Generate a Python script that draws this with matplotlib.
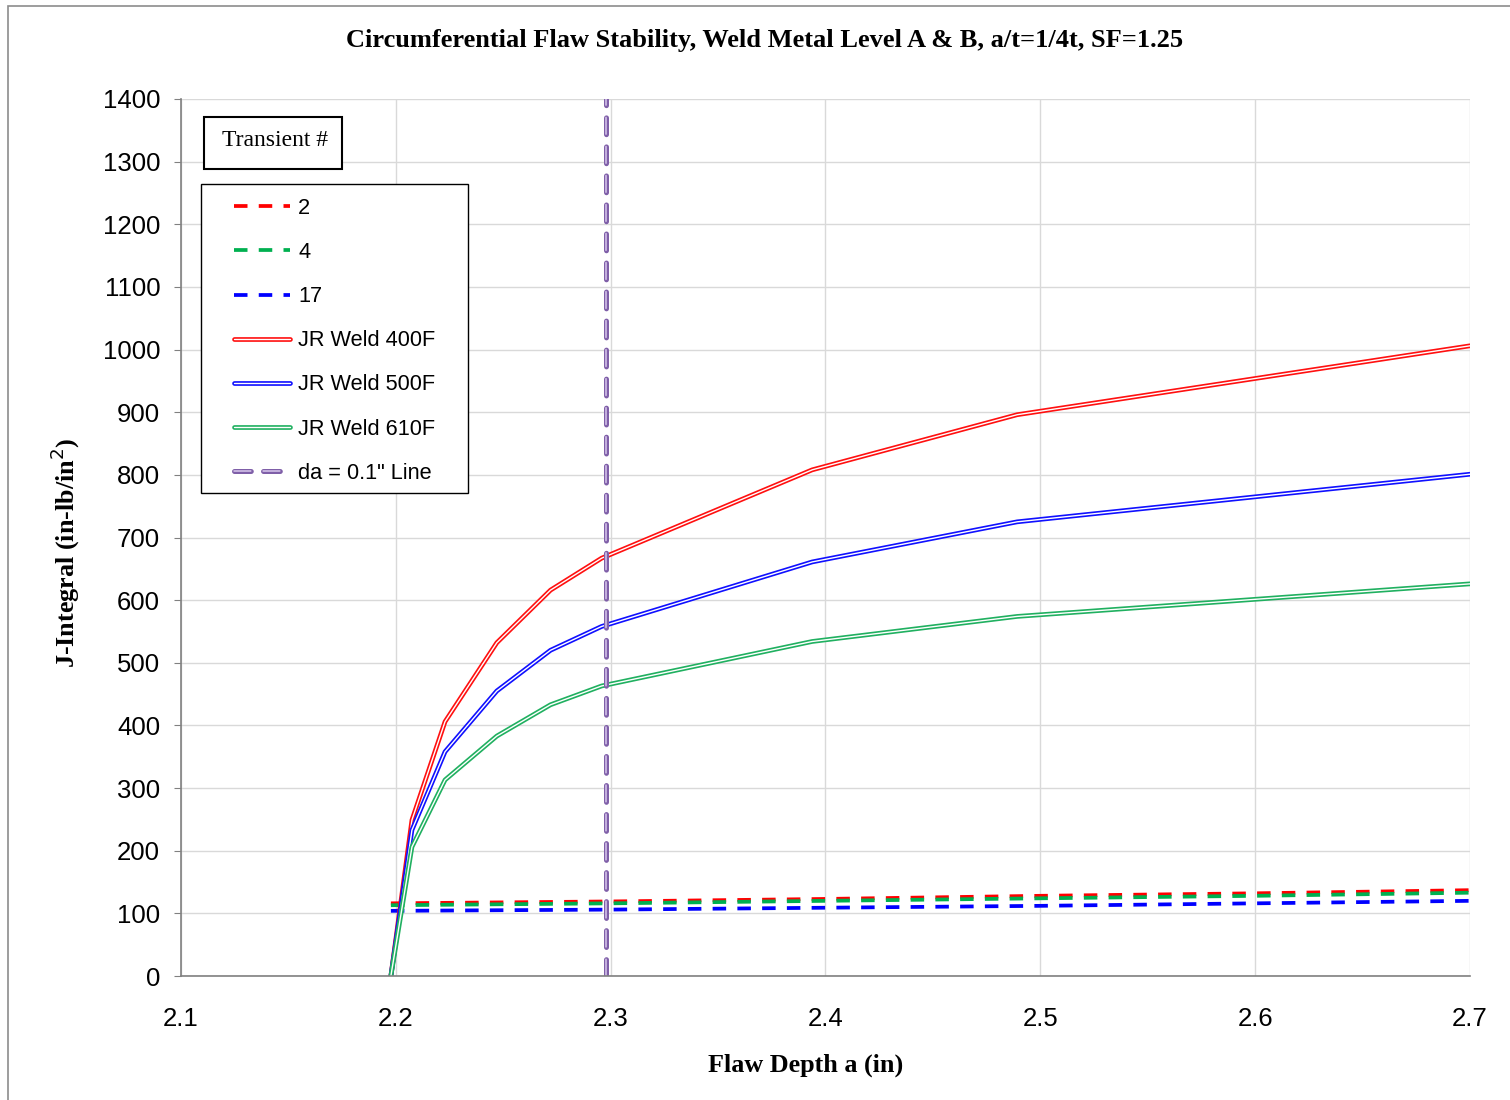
import numpy as np
import matplotlib.pyplot as plt
import matplotlib.patheffects as pe
from matplotlib.patches import Rectangle

# flaw depth (in) and J values
a_jr = [2.1977, 2.2075, 2.2229, 2.247, 2.272, 2.2958, 2.3938, 2.4892, 2.7]
jr_400 = [0, 249, 406, 532, 616, 667, 808, 896, 1006]
jr_500 = [0, 233, 358, 455, 520, 558, 661, 725, 801]
jr_610 = [0, 206, 313, 383, 433, 463, 534, 574, 626]

a_tr = [2.1977, 2.3, 2.4, 2.5, 2.6, 2.7]
tr_2 = [116, 119, 123, 128, 132, 137]
tr_4 = [113, 116, 120, 124, 128, 133]
tr_17 = [104, 106, 109, 112, 116, 120]

a_da = 2.2977
xticks = [2.1, 2.2, 2.3, 2.4, 2.5, 2.6, 2.7]
yticks = np.arange(0, 1401, 100)

W, H = 1510, 1100
fig = plt.figure(figsize=(W/100, H/100), dpi=100)
ax = fig.add_axes([181/W, 1-976/H, (1470-181)/W, (976-99)/H])

tfont = 'Liberation Sans'
sfont = 'Liberation Serif'

# transient curves
dash = (3.6, 3.0)
ax.plot(a_tr, tr_2, color='#FF0000', lw=2.7, dashes=dash, label='2')
ax.plot(a_tr, tr_4, color='#00B050', lw=2.7, dashes=dash, label='4')
ax.plot(a_tr, tr_17, color='#0000FF', lw=2.7, dashes=dash, label='17')

# JR curves drawn as double lines
def dbl(x, y, c, lab):
    ax.plot(x, y, color='white', lw=1.0, label=lab, solid_capstyle='round',
            path_effects=[pe.Stroke(linewidth=3.4, foreground=c), pe.Normal()])

dbl(a_jr, jr_400, '#FF1010', 'JR Weld 400F')
dbl(a_jr, jr_500, '#1010FF', 'JR Weld 500F')
dbl(a_jr, jr_610, '#20B060', 'JR Weld 610F')

ax.plot([a_da, a_da], [0, 1400], color='#D8C8EC', lw=1.1, dashes=(11, 8),
        dash_capstyle='round', label='da = 0.1" Line',
        path_effects=[pe.Stroke(linewidth=3.6, foreground='#7F5FA8'), pe.Normal()])

ax.set_xlim(2.1, 2.7)
ax.set_ylim(0, 1400)
ax.set_xticks(xticks)
ax.set_xticklabels([f'{v:.1f}' for v in xticks])
ax.set_yticks(yticks)
ax.grid(True, color='#D9D9D9', lw=1.0)
ax.set_axisbelow(True)
for s in ['top', 'right']:
    ax.spines[s].set_visible(False)
for s in ['left', 'bottom']:
    ax.spines[s].set_color('#808080')
    ax.spines[s].set_linewidth(1.2)
ax.tick_params(axis='y', length=5, color='#808080', pad=10, labelsize=18.5)
ax.tick_params(axis='x', length=0, pad=22, labelsize=18.5)
for lab in ax.get_xticklabels() + ax.get_yticklabels():
    lab.set_family(tfont)

fig.text(765/W, 1-40/H, 'Circumferential Flaw Stability, Weld Metal Level A & B, a/t=1/4t, SF=1.25',
         ha='center', va='center', family=sfont, weight='bold', fontsize=19)
fig.text(806/W, 1-1065/H, 'Flaw Depth a (in)', ha='center', va='center',
         family=sfont, weight='bold', fontsize=18.8)
fig.text(65/W, 1-553/H, 'J-Integral (in-lb/in$^2$)', ha='center', va='center',
         rotation=90, family=sfont, weight='bold', fontsize=18.8)

# "Transient #" title box
ax.add_patch(Rectangle((204/W, 1-169/H), 138/W, 52/H, transform=fig.transFigure,
                       fc='white', ec='black', lw=1.5, zorder=4, clip_on=False))
ax.text(275/W, 1-141/H, 'Transient #', transform=fig.transFigure, ha='center', va='center',
        family=sfont, fontsize=17, zorder=5)

# legend frame drawn separately so the padding can match
ax.add_patch(Rectangle((201/W, 1-493/H), 267/W, 309/H, transform=fig.transFigure,
                       fc='white', ec='black', lw=1.0, zorder=4, clip_on=False))
leg = ax.legend(loc='upper left', bbox_to_anchor=(234/W, 1-198/H), bbox_transform=fig.transFigure,
                borderaxespad=0, frameon=False, borderpad=0,
                prop={'family': tfont, 'size': 15.7}, handlelength=2.57, labelspacing=1.06,
                handletextpad=0.37)
leg.set_zorder(6)

# outer chart border
fig.patches.append(Rectangle((8/W, -0.01), 1.02, 1-6/H+0.01, transform=fig.transFigure,
                             fill=False, ec='#8C8C8C', lw=1.2))

fig.savefig('out.png', dpi=100)
